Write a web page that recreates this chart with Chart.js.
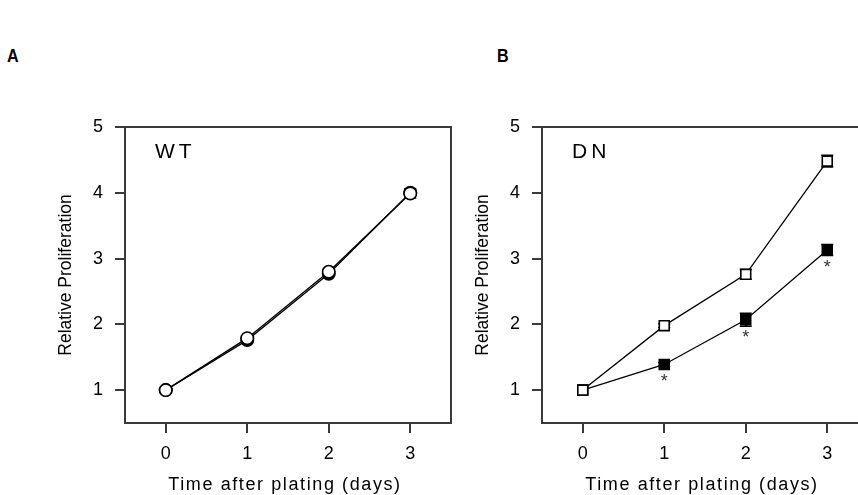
<!DOCTYPE html>
<html>
<head>
<meta charset="utf-8">
<script src="https://cdn.jsdelivr.net/npm/chart.js@4/dist/chart.umd.min.js"></script>
<style>
  html, body { margin: 0; padding: 0; background: #fff; }
  body { width: 858px; height: 495px; position: relative; overflow: hidden; font-family: "Liberation Sans", Arial, sans-serif; }
  .panel { position: absolute; top: 0; width: 470px; height: 495px; }
  .tag { position: absolute; top: 45px; font-weight: bold; font-size: 19px; color: #000; transform: scaleX(0.85); transform-origin: left top; }
</style>
</head>
<body>
<div class="tag" style="left:7px">A</div>
<div class="tag" style="left:497px">B</div>
<div class="panel" style="left:0"><canvas id="chartA"></canvas></div>
<div class="panel" style="left:417px"><canvas id="chartB"></canvas></div>

<script>
/* DATA */
const days = [0, 1, 2, 3];
const xTicks = [0, 1, 2, 3];
const yTicks = [1, 2, 3, 4, 5];

const wtOpen = [1.00, 1.79, 2.80, 3.99];
const wtOpenErr = [0, 0.02, 0.03, 0.07];
const wtFilled = [1.00, 1.76, 2.77, 4.00];
const wtFilledErr = [0, 0.02, 0.03, 0.05];

const dnOpen = [1.00, 1.98, 2.76, 4.48];
const dnOpenErr = [0, 0.03, 0.075, 0.09];
const dnFilled = [1.00, 1.39, 2.07, 3.13];
const dnFilledErr = [0, 0.03, 0.10, 0.085];
const dnFilledSig = ["", "*", "*", "*"];

const FONT = "'Liberation Sans', Arial, sans-serif";
const INK = "#000";
const AXIS = "#3a3a3a";

function pts(ys) {
  return days.map((d, i) => ({ x: d, y: ys[i] }));
}

function series(ys, errs, style, filled, sig) {
  return {
    data: pts(ys),
    errors: errs,
    sig: sig || null,
    borderColor: INK,
    borderWidth: 1.3,
    pointStyle: style,
    pointRadius: style === "rect" ? 7 : 6.2,
    pointBorderWidth: 1.6,
    pointBorderColor: INK,
    pointBackgroundColor: filled ? INK : "#fff",
    tension: 0,
    fill: false
  };
}

/* PLUGINS */
const frame = {
  id: "frame",
  beforeDatasetsDraw(chart) {
    const { ctx, chartArea: a } = chart;
    ctx.save();
    ctx.strokeStyle = AXIS;
    ctx.lineWidth = 2;
    ctx.strokeRect(a.left, a.top, a.right - a.left, a.bottom - a.top);
    ctx.restore();
  }
};

const errorBars = {
  id: "errorBars",
  beforeDatasetsDraw(chart) {
    const { ctx, scales: { x, y } } = chart;
    ctx.save();
    ctx.strokeStyle = INK;
    ctx.lineWidth = 1.5;
    chart.data.datasets.forEach(ds => {
      ds.data.forEach((p, i) => {
        const e = ds.errors[i];
        if (!e) return;
        const px = x.getPixelForValue(p.x);
        const top = y.getPixelForValue(p.y + e);
        const bot = y.getPixelForValue(p.y - e);
        ctx.beginPath();
        ctx.moveTo(px, top); ctx.lineTo(px, bot);
        ctx.moveTo(px - 6, top); ctx.lineTo(px + 6, top);
        ctx.moveTo(px - 6, bot); ctx.lineTo(px + 6, bot);
        ctx.stroke();
      });
    });
    ctx.restore();
  }
};

const texts = {
  id: "texts",
  afterDraw(chart, args, opts) {
    const { ctx, chartArea: a, scales: { x, y } } = chart;
    ctx.save();
    ctx.fillStyle = INK;
    ctx.textBaseline = "middle";

    // panel name
    ctx.letterSpacing = "4px";
    ctx.font = "21px " + FONT;
    ctx.textAlign = "left";
    ctx.fillText(opts.name, a.left + 30, a.top + 25);

    // x axis title
    ctx.letterSpacing = "1.6px";
    ctx.font = "18px " + FONT;
    ctx.textAlign = "center";
    ctx.fillText("Time after plating (days)", (a.left + a.right) / 2 - 3, a.bottom + 62);

    // significance marks
    ctx.letterSpacing = "0px";
    ctx.font = "18px " + FONT;
    ctx.fillStyle = "#333";
    chart.data.datasets.forEach(ds => {
      if (!ds.sig) return;
      ds.data.forEach((p, i) => {
        if (!ds.sig[i]) return;
        ctx.fillText(ds.sig[i], x.getPixelForValue(p.x), y.getPixelForValue(p.y) + 18);
      });
    });
    ctx.restore();
  }
};

function makeChart(id, name, datasets) {
  return new Chart(document.getElementById(id), {
    type: "line",
    data: { datasets },
    plugins: [frame, errorBars, texts],
    options: {
      responsive: false,
      animation: false,
      devicePixelRatio: 1,
      layout: { padding: { top: 127, right: 19, left: 0, bottom: 0 } },
      plugins: {
        legend: { display: false },
        tooltip: { enabled: false },
        texts: { name }
      },
      scales: {
        x: {
          type: "linear",
          min: -0.5,
          max: 3.5,
          afterBuildTicks: s => { s.ticks = xTicks.map(v => ({ value: v })); },
          afterFit: s => { s.height = 72; },
          border: { display: false },
          grid: { drawOnChartArea: false, drawTicks: true, tickLength: 10, color: AXIS, lineWidth: 2 },
          ticks: { color: INK, padding: 10, font: { family: FONT, size: 18 } }
        },
        y: {
          type: "linear",
          min: 0.5,
          max: 5,
          afterBuildTicks: s => { s.ticks = yTicks.map(v => ({ value: v })); },
          afterFit: s => { s.width = 125; },
          border: { display: false },
          grid: { drawOnChartArea: false, drawTicks: true, tickLength: 10, color: AXIS, lineWidth: 2 },
          ticks: { color: INK, padding: 12, font: { family: FONT, size: 18 } },
          title: {
            display: true,
            text: "Relative Proliferation",
            color: INK,
            padding: { top: 56, bottom: 0 },
            font: { family: FONT, size: 17.5 }
          }
        }
      }
    }
  });
}

const cA = document.getElementById("chartA");
const cB = document.getElementById("chartB");
[cA, cB].forEach(c => { c.width = 470; c.height = 495; });

makeChart("chartA", "WT", [
  series(wtOpen, wtOpenErr, "circle", false),
  series(wtFilled, wtFilledErr, "circle", true)
]);

makeChart("chartB", "DN", [
  series(dnOpen, dnOpenErr, "rect", false),
  series(dnFilled, dnFilledErr, "rect", true, dnFilledSig)
]);
</script>
</body>
</html>
